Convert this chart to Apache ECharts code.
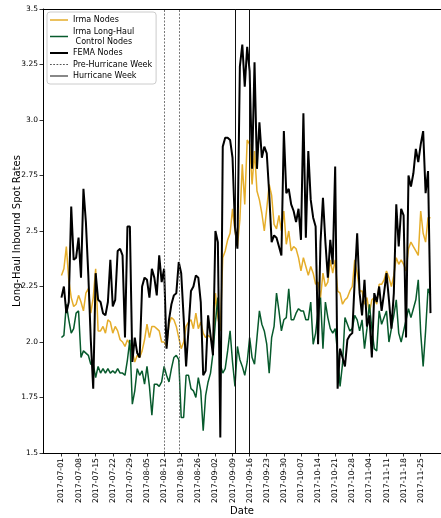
<!DOCTYPE html>
<html>
<head>
<meta charset="utf-8">
<title>Long-Haul Inbound Spot Rates</title>
<script src="https://cdn.jsdelivr.net/npm/echarts@6/dist/echarts.min.js"></script>
<style>
  html, body { margin: 0; padding: 0; background: #fff; }
  #chart { width: 441px; height: 518px; }
</style>
</head>
<body>
<div id="chart"></div>
<script>
// Daily spot rates, 2017-07-01 through 2017-11-29
const firstDate = '2017-07-01';

const irmaNodes = [
  2.30, 2.33, 2.43, 2.28, 2.20, 2.16, 2.17, 2.21, 2.18, 2.14,
  2.22, 2.24, 2.13, 2.20, 2.33, 2.05, 2.05, 2.07, 2.04, 2.10,
  2.09, 2.04, 2.07, 2.05, 2.01, 2.00, 1.98, 2.01, 1.99, 1.96,
  1.91, 1.94, 1.93, 1.96, 2.01, 2.08, 2.02, 2.07, 2.07, 2.06,
  2.05, 2.00, 2.00, 1.98, 2.08, 2.11, 2.10, 2.07, 2.02, 1.97,
  2.00, 2.07, 2.09, 2.10, 2.06, 2.13, 2.06, 2.09, 2.04, 2.02,
  2.03, 2.02, 1.98, 2.22, 2.11, 2.05, 2.38, 2.41, 2.46, 2.49,
  2.60, 2.50, 2.43, 2.55, 2.80, 2.62, 2.91, 2.89, 2.71, 2.86,
  2.68, 2.64, 2.58, 2.50, 2.60, 2.71, 2.66, 2.53, 2.51, 2.57,
  2.50, 2.59, 2.44, 2.50, 2.41, 2.43, 2.42, 2.38, 2.32, 2.38,
  2.34, 2.30, 2.34, 2.31, 2.26, 2.27, 2.20, 2.31, 2.25, 2.27,
  2.37, 2.31, 2.37, 2.23, 2.22, 2.17, 2.19, 2.20, 2.23, 2.25,
  2.37, 2.31, 2.23, 2.23, 2.17, 2.20, 2.13, 2.19, 2.20, 2.17,
  2.26, 2.26, 2.28, 2.32, 2.29, 2.25, 2.30, 2.38, 2.35, 2.37,
  2.35, 2.32, 2.42, 2.45, 2.43, 2.41, 2.39, 2.59, 2.49, 2.45,
  2.56, 2.56
];

const irmaControlNodes = [
  2.02, 2.03, 2.17, 2.10, 2.04, 2.06, 2.13, 2.14, 1.93, 1.96,
  1.95, 1.94, 1.90, 1.90, 1.84, 1.89, 1.86, 1.88, 1.86, 1.88,
  1.86, 1.87, 1.86, 1.88, 1.86, 1.86, 1.85, 1.92, 2.01, 1.72,
  1.78, 1.88, 1.85, 1.87, 1.81, 1.89, 1.80, 1.67, 1.81, 1.81,
  1.80, 1.82, 1.89, 1.85, 1.82, 1.88, 1.93, 1.94, 1.92, 1.66,
  1.66, 1.85, 1.85, 1.79, 1.78, 1.75, 1.84, 1.78, 1.60, 1.76,
  1.82, 1.86, 1.95, 2.09, 2.20, 1.90, 1.86, 1.88, 1.96, 2.05,
  1.91, 1.80, 1.98, 1.92, 1.89, 1.85, 1.91, 2.02, 1.93, 1.90,
  2.02, 2.14, 2.08, 2.05, 1.99, 1.86, 2.02, 2.07, 2.22, 2.14,
  2.05, 2.10, 2.11, 2.24, 2.10, 2.10, 2.13, 2.15, 2.14, 2.14,
  2.10, 2.10, 2.18, 1.99, 2.04, 2.14, 2.20, 1.97, 2.18, 2.11,
  2.06, 2.04, 2.06, 1.95, 1.80, 1.90, 2.11, 2.08, 2.05, 2.06,
  2.12, 2.10, 2.05, 2.10, 1.97, 2.06, 2.17, 2.06, 1.97, 1.96,
  2.14, 2.08, 2.11, 2.14, 2.00, 2.06, 2.12, 2.19, 2.04, 2.00,
  2.05, 2.10, 2.15, 2.11, 2.15, 2.19, 2.28, 2.04, 1.89, 2.05,
  2.24, 2.21
];

const femaNodes = [
  2.20, 2.25, 2.13, 2.18, 2.61, 2.37, 2.38, 2.47, 2.29, 2.69,
  2.54, 2.30, 2.01, 1.79, 2.31, 2.19, 2.18, 2.13, 2.12, 2.18,
  2.37, 2.16, 2.19, 2.41, 2.42, 2.39, 2.02, 2.52, 2.52, 1.91,
  2.02, 1.95, 1.93, 2.25, 2.29, 2.28, 2.20, 2.33, 2.29, 2.21,
  2.39, 2.27, 2.33, 1.97, 2.10, 2.17, 2.21, 2.22, 2.36, 2.31,
  2.11, 1.89, 2.06, 2.23, 2.25, 2.30, 2.29, 2.18, 1.85, 1.87,
  2.12, 2.03, 1.94, 2.50, 2.45, 1.57, 2.88, 2.92, 2.92, 2.91,
  2.83, 2.52, 2.42, 3.24, 3.34, 3.15, 3.33, 3.22, 2.78, 3.26,
  2.78, 2.99, 2.83, 2.88, 2.85, 2.67, 2.45, 2.48, 2.47, 2.43,
  2.39, 2.95, 2.67, 2.69, 2.62, 2.59, 2.54, 2.60, 2.46, 3.03,
  2.47, 2.86, 2.64, 2.56, 2.52, 1.99, 2.45, 2.65, 2.45, 2.29,
  2.46, 2.35, 2.79, 1.79, 1.97, 1.93, 1.89, 2.01, 2.03, 2.04,
  2.28, 2.49, 2.22, 2.12, 2.28, 2.07, 2.12, 1.93, 2.22, 2.18,
  2.25, 2.14, 2.22, 2.31, 2.19, 2.06, 2.22, 2.62, 2.43, 2.60,
  2.57, 2.02, 2.75, 2.70, 2.76, 2.87, 2.81, 2.89, 2.95, 2.67,
  2.77, 2.13
];

// Weekly date ticks along the x axis
const weekTicks = [
  '2017-07-01', '2017-07-08', '2017-07-15', '2017-07-22', '2017-07-29',
  '2017-08-05', '2017-08-12', '2017-08-19', '2017-08-26', '2017-09-02',
  '2017-09-09', '2017-09-16', '2017-09-23', '2017-09-30', '2017-10-07',
  '2017-10-14', '2017-10-21', '2017-10-28', '2017-11-04', '2017-11-11',
  '2017-11-18', '2017-11-25'
];

// Rate ticks along the y axis
const rateTicks = [1.5, 1.75, 2.0, 2.25, 2.5, 2.75, 3.0, 3.25, 3.5];

// Reference weeks marked by vertical lines
const preHurricaneWeek = ['2017-08-12', '2017-08-18'];
const hurricaneWeek = ['2017-09-10', '2017-09-16'];

// The x axis runs in days counted from the first date
const DAY = 86400000;
function toTime(s) {
  const p = s.split('-').map(Number);
  return Date.UTC(p[0], p[1] - 1, p[2]);
}
const t0 = toTime(firstDate);
function dayOf(s) { return Math.round((toTime(s) - t0) / DAY); }
function pairs(values) { return values.map((v, i) => [i, v]); }
const tickDays = weekTicks.map(dayOf);

// Legend swatches: short horizontal strokes (solid or dotted)
function solidIcon(th) { return 'path://M0,0h18v' + th + 'h-18z'; }
function dottedIcon(th) {
  let p = 'path://';
  for (let x = 0; x < 18; x += 3) p += 'M' + x + ',0h1.6v' + th + 'h-1.6z';
  return p;
}

const FONT = 'DejaVu Sans';
const GOLD = '#e5ad2a';
const GREEN = '#075a2c';
const chart = echarts.init(document.getElementById('chart'), null, { renderer: 'canvas' });

const option = {
  animation: false,
  backgroundColor: '#fff',
  grid: { left: 43, top: 9, right: 0, bottom: 65, containLabel: false, outerBoundsMode: 'none' },
  legend: {
    orient: 'vertical',
    left: 47,
    top: 12,
    padding: [3, 4, 3, 3],
    itemWidth: 18,
    itemHeight: 8,
    itemGap: 1.5,
    borderColor: '#cccccc',
    borderWidth: 1,
    borderRadius: 3,
    backgroundColor: 'rgba(255,255,255,0.85)',
    itemStyle: { borderWidth: 0 },
    textStyle: { fontFamily: FONT, fontSize: 8, color: '#000', lineHeight: 10 },
    data: [
      { name: 'Irma Nodes', icon: solidIcon(1.5), itemStyle: { color: GOLD, borderWidth: 0 } },
      { name: 'Irma Long-Haul\n Control Nodes', icon: solidIcon(1.5), itemStyle: { color: GREEN, borderWidth: 0 } },
      { name: 'FEMA Nodes', icon: solidIcon(2), itemStyle: { color: '#000', borderWidth: 0 } },
      { name: 'Pre-Hurricane Week', icon: dottedIcon(0.8), itemStyle: { color: '#555', borderWidth: 0 } },
      { name: 'Hurricane Week', icon: solidIcon(1), itemStyle: { color: '#111', borderWidth: 0 } }
    ]
  },
  xAxis: [
    {
      type: 'value',
      min: -7.55,
      max: 155.3,
      name: 'Date',
      nameLocation: 'middle',
      nameGap: 53,
      nameMoveOverlap: false,
      nameTextStyle: { fontFamily: FONT, fontSize: 10, color: '#000' },
      axisLine: { show: true, onZero: false, lineStyle: { color: '#000', width: 1 } },
      axisTick: {
        show: true, length: 3.5, inside: false,
        lineStyle: { color: '#000', width: 0.8 },
        customValues: tickDays
      },
      axisLabel: {
        show: true,
        rotate: 90,
        margin: 5,
        fontFamily: FONT,
        fontSize: 7.75,
        color: '#000',
        customValues: tickDays,
        formatter: function (v) {
          const i = tickDays.indexOf(Math.round(v));
          return i >= 0 ? weekTicks[i] : '';
        }
      },
      splitLine: { show: false }
    },
    {
      type: 'value',
      position: 'top',
      min: 0,
      max: 1,
      axisLine: { show: true, onZero: false, lineStyle: { color: '#000', width: 1 } },
      axisTick: { show: false },
      axisLabel: { show: false },
      splitLine: { show: false }
    }
  ],
  yAxis: {
    type: 'value',
    min: 1.5,
    max: 3.5,
    interval: 0.25,
    name: 'Long-Haul Inbound Spot Rates',
    nameLocation: 'middle',
    nameGap: 21,
    nameMoveOverlap: false,
    nameTextStyle: { fontFamily: FONT, fontSize: 10, color: '#000' },
    axisLine: { show: true, onZero: false, lineStyle: { color: '#000', width: 1 } },
    axisTick: { show: true, length: 3.5, lineStyle: { color: '#000', width: 0.8 } },
    axisLabel: {
      margin: 5,
      fontFamily: FONT,
      fontSize: 7.5,
      color: '#000',
      formatter: function (v) {
        const t = rateTicks.find(r => Math.abs(r - v) < 1e-9);
        if (t === undefined) return '';
        return Math.abs(t * 10 - Math.round(t * 10)) < 1e-9 ? t.toFixed(1) : t.toFixed(2);
      }
    },
    splitLine: { show: false }
  },
  series: [
    {
      name: 'Irma Nodes',
      type: 'line',
      data: pairs(irmaNodes),
      symbol: 'none',
      lineStyle: { color: GOLD, width: 1.5 },
      itemStyle: { color: GOLD },
      z: 2
    },
    {
      name: 'Irma Long-Haul\n Control Nodes',
      type: 'line',
      data: pairs(irmaControlNodes),
      symbol: 'none',
      lineStyle: { color: GREEN, width: 1.5 },
      itemStyle: { color: GREEN },
      z: 3
    },
    {
      name: 'FEMA Nodes',
      type: 'line',
      data: pairs(femaNodes),
      symbol: 'none',
      lineStyle: { color: '#000000', width: 2 },
      itemStyle: { color: '#000000' },
      z: 4
    },
    {
      name: 'Pre-Hurricane Week',
      type: 'line',
      data: [],
      symbol: 'none',
      lineStyle: { color: '#555555', width: 0.8, type: [2, 1.5] },
      itemStyle: { color: '#555555' },
      z: 5,
      markLine: {
        silent: true,
        symbol: ['none', 'none'],
        label: { show: false },
        lineStyle: { color: '#555555', width: 0.8, type: [2, 1.5] },
        data: preHurricaneWeek.map(d => ({ xAxis: dayOf(d) }))
      }
    },
    {
      name: 'Hurricane Week',
      type: 'line',
      data: [],
      symbol: 'none',
      lineStyle: { color: '#111111', width: 1 },
      itemStyle: { color: '#111111' },
      z: 5,
      markLine: {
        silent: true,
        symbol: ['none', 'none'],
        label: { show: false },
        lineStyle: { color: '#111111', width: 1, type: 'solid' },
        data: hurricaneWeek.map(d => ({ xAxis: dayOf(d) }))
      }
    }
  ]
};

chart.setOption(option);
</script>
</body>
</html>
